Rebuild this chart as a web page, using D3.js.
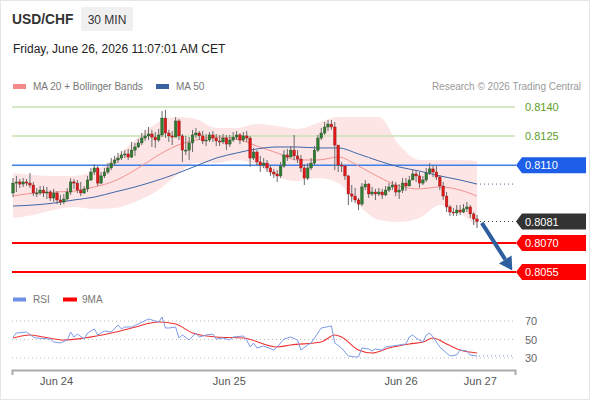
<!DOCTYPE html>
<html>
<head>
<meta charset="utf-8">
<script src="https://cdn.jsdelivr.net/npm/d3@7"></script>
<style>
  body { margin: 0; background: #fff; font-family: "Liberation Sans", Arial, sans-serif; }
  svg { display: block; }
</style>
</head>
<body>
<svg id="chart" width="590" height="400"></svg>
<script>
// ── Data ──
const pair = "USD/CHF";
const period = "30 MIN";
const stamp = "Friday, June 26, 2026 11:07:01 AM CET";

const firstOpen = 0.80957;
const closes = [
  0.81008, 0.81014, 0.81003, 0.81014, 0.81008, 0.80998, 0.80957, 0.80957, 0.80972, 0.80957,
  0.80962, 0.80931, 0.80957, 0.80921, 0.80911, 0.80926, 0.80962, 0.81014, 0.81008, 0.80972,
  0.80957, 0.80978, 0.81024, 0.81065, 0.81086, 0.81008, 0.81045, 0.81065, 0.81086, 0.81111,
  0.81127, 0.81137, 0.81153, 0.81158, 0.81142, 0.81178, 0.81194, 0.81215, 0.81240, 0.81251,
  0.81261, 0.81245, 0.81230, 0.81256, 0.81343, 0.81266, 0.81251, 0.81245, 0.81328, 0.81251,
  0.81178, 0.81178, 0.81215, 0.81256, 0.81266, 0.81251, 0.81225, 0.81230, 0.81256, 0.81240,
  0.81225, 0.81220, 0.81240, 0.81209, 0.81230, 0.81245, 0.81256, 0.81230, 0.81251, 0.81240,
  0.81137, 0.81168, 0.81117, 0.81101, 0.81111, 0.81086, 0.81065, 0.81055, 0.81045, 0.81096,
  0.81153, 0.81142, 0.81178, 0.81148, 0.81132, 0.81086, 0.81034, 0.81086, 0.81111, 0.81178,
  0.81240, 0.81266, 0.81297, 0.81312, 0.81297, 0.81204, 0.81101, 0.81096, 0.81045, 0.80952,
  0.80941, 0.80921, 0.80900, 0.80988, 0.81003, 0.80952, 0.80962, 0.80952, 0.80962, 0.80947,
  0.80972, 0.80988, 0.80998, 0.80962, 0.80972, 0.81008, 0.80993, 0.81024, 0.81055, 0.81045,
  0.81008, 0.81024, 0.81060, 0.81081, 0.81065, 0.81039, 0.80993, 0.80941, 0.80885, 0.80859,
  0.80854, 0.80869, 0.80859, 0.80875, 0.80885, 0.80849, 0.80823, 0.80810
];
const highs = [
  0.81034, 0.81045, 0.81029, 0.81034, 0.81029, 0.81060, 0.81014, 0.80983, 0.80993, 0.80993,
  0.80988, 0.80972, 0.80978, 0.80967, 0.80947, 0.80952, 0.80983, 0.81034, 0.81029, 0.81024,
  0.81014, 0.80993, 0.81045, 0.81086, 0.81106, 0.81096, 0.81065, 0.81086, 0.81111, 0.81137,
  0.81148, 0.81163, 0.81173, 0.81178, 0.81184, 0.81220, 0.81215, 0.81235, 0.81266, 0.81282,
  0.81297, 0.81282, 0.81271, 0.81287, 0.81379, 0.81385, 0.81282, 0.81276, 0.81348, 0.81338,
  0.81261, 0.81251, 0.81245, 0.81282, 0.81292, 0.81276, 0.81276, 0.81261, 0.81271, 0.81276,
  0.81261, 0.81256, 0.81261, 0.81256, 0.81256, 0.81271, 0.81276, 0.81266, 0.81271, 0.81276,
  0.81251, 0.81189, 0.81178, 0.81148, 0.81137, 0.81127, 0.81101, 0.81081, 0.81075, 0.81117,
  0.81178, 0.81184, 0.81199, 0.81256, 0.81178, 0.81153, 0.81106, 0.81111, 0.81137, 0.81199,
  0.81256, 0.81292, 0.81323, 0.81333, 0.81333, 0.81323, 0.81204, 0.81117, 0.81096, 0.81050,
  0.80998, 0.80983, 0.80931, 0.81008, 0.81024, 0.81008, 0.80988, 0.80978, 0.80983, 0.80978,
  0.80993, 0.81008, 0.81019, 0.81014, 0.81003, 0.81034, 0.81034, 0.81045, 0.81075, 0.81075,
  0.81065, 0.81045, 0.81086, 0.81111, 0.81101, 0.81096, 0.81050, 0.81014, 0.80962, 0.80895,
  0.80880, 0.80895, 0.80895, 0.80900, 0.80911, 0.80895, 0.80859, 0.80844
];
const lows = [
  0.80936, 0.80962, 0.80983, 0.80988, 0.80993, 0.80983, 0.80941, 0.80936, 0.80947, 0.80936,
  0.80926, 0.80916, 0.80911, 0.80900, 0.80895, 0.80900, 0.80916, 0.80947, 0.80978, 0.80957,
  0.80941, 0.80952, 0.80962, 0.81019, 0.81050, 0.80993, 0.81003, 0.81034, 0.81055, 0.81075,
  0.81096, 0.81111, 0.81127, 0.81137, 0.81127, 0.81137, 0.81148, 0.81189, 0.81204, 0.81225,
  0.81230, 0.81194, 0.81189, 0.81220, 0.81245, 0.81240, 0.81220, 0.81204, 0.81245, 0.81230,
  0.81117, 0.81153, 0.81127, 0.81168, 0.81240, 0.81230, 0.81209, 0.81199, 0.81220, 0.81220,
  0.81199, 0.81199, 0.81209, 0.81178, 0.81194, 0.81220, 0.81230, 0.81209, 0.81220, 0.81220,
  0.81091, 0.81127, 0.81096, 0.81065, 0.81086, 0.81065, 0.81045, 0.81034, 0.81014, 0.81034,
  0.81086, 0.81122, 0.81148, 0.81127, 0.81111, 0.81065, 0.80998, 0.81024, 0.81075, 0.81101,
  0.81168, 0.81230, 0.81256, 0.81276, 0.81282, 0.81075, 0.81065, 0.81065, 0.81024, 0.80895,
  0.80911, 0.80905, 0.80869, 0.80890, 0.80972, 0.80931, 0.80941, 0.80921, 0.80941, 0.80926,
  0.80941, 0.80962, 0.80972, 0.80941, 0.80926, 0.80957, 0.80967, 0.80993, 0.81024, 0.81014,
  0.80983, 0.80998, 0.81014, 0.81050, 0.81039, 0.81024, 0.80972, 0.80921, 0.80859, 0.80838,
  0.80838, 0.80838, 0.80844, 0.80854, 0.80859, 0.80828, 0.80792, 0.80777
];

// indicator readings, sampled every few candles
const indIdx = [0, 6, 12, 18, 24, 30, 36, 42, 48, 54, 60, 66, 72, 78, 84, 90, 96, 102, 108, 114, 120, 126, 132, 137];
const ma20 = [0.80941, 0.80957, 0.80962, 0.80967, 0.80988, 0.81019, 0.81075, 0.81142, 0.81199, 0.81230, 0.81245, 0.81235,
  0.81199, 0.81163, 0.81127, 0.81127, 0.81142, 0.81096, 0.81039, 0.80993, 0.80978, 0.80988, 0.80972, 0.80941];
const ma50 = [0.80890, 0.80895, 0.80905, 0.80921, 0.80936, 0.80962, 0.80988, 0.81019, 0.81055, 0.81096, 0.81137, 0.81163,
  0.81184, 0.81194, 0.81194, 0.81189, 0.81189, 0.81158, 0.81122, 0.81091, 0.81070, 0.81045, 0.81024, 0.81003];
const bbUpper = [0.81060, 0.81050, 0.81045, 0.81045, 0.81070, 0.81137, 0.81230, 0.81312, 0.81348, 0.81338, 0.81292, 0.81292,
  0.81312, 0.81302, 0.81287, 0.81318, 0.81348, 0.81348, 0.81348, 0.81204, 0.81127, 0.81127, 0.81127, 0.81122];
const bbLower = [0.80828, 0.80844, 0.80869, 0.80885, 0.80875, 0.80880, 0.80911, 0.80962, 0.81045, 0.81111, 0.81111, 0.81127,
  0.81101, 0.81039, 0.81019, 0.81034, 0.81008, 0.80895, 0.80818, 0.80808, 0.80828, 0.80895, 0.80854, 0.80782];

const resistances = [0.8140, 0.8125];
const pivot = 0.8110;
const supports = [0.8070, 0.8055];
const lastPrice = 0.8081;
const arrowFrom = [138.4, 0.80803];
const arrowTo = [147.4, 0.80558];

const rsiIdx = [0, 1, 4, 6, 7, 11, 12, 14, 16, 17, 18, 19, 21, 22, 24, 25, 27, 29, 31, 32, 33, 35, 37, 40, 41, 43, 44, 45,
  46, 48, 49, 50, 52, 54, 55, 57, 59, 60, 62, 64, 65, 68, 69, 70, 71, 72, 74, 77, 78, 80, 82, 84, 85, 87, 88, 90, 91, 94,
  95, 97, 99, 101, 102, 103, 105, 106, 107, 109, 110, 112, 114, 116, 117, 118, 119, 121, 122, 123, 124, 126, 128, 129,
  131, 132, 134, 135, 137];
const rsiVal = [52.7, 57.0, 58.1, 52.7, 51.6, 50.5, 47.3, 46.2, 49.5, 58.1, 52.7, 55.9, 50.5, 57.0, 61.4, 54.9, 59.2, 58.1,
  65.7, 61.4, 63.5, 63.5, 66.8, 72.2, 71.1, 68.9, 74.3, 62.4, 62.4, 63.5, 51.6, 54.9, 49.5, 57.0, 52.7, 54.9, 55.9, 50.5,
  51.6, 49.5, 52.7, 53.8, 49.5, 41.9, 46.2, 40.8, 43.0, 38.6, 41.9, 50.5, 52.7, 49.5, 38.6, 44.1, 46.2, 57.0, 62.4, 64.6,
  46.2, 40.8, 32.2, 31.1, 31.1, 40.8, 39.7, 37.6, 39.7, 38.6, 41.9, 43.0, 44.1, 45.1, 52.7, 54.9, 51.6, 47.3, 54.9, 57.0,
  52.7, 41.9, 35.4, 32.2, 33.2, 38.6, 37.6, 33.2, 32.2];
const rsiMaIdx = [0, 5, 9, 15, 21, 29, 35, 43, 48, 53, 60, 68, 78, 82, 91, 95, 97, 102, 106, 111, 117, 121, 124, 128, 132, 137];
const rsiMaVal = [51.6, 54.9, 52.7, 49.5, 51.6, 57.0, 62.4, 68.9, 66.8, 57.0, 52.7, 51.6, 41.9, 44.1, 47.3, 54.9, 52.7,
  38.6, 35.4, 40.8, 45.1, 47.3, 51.6, 45.1, 38.6, 35.4];
const rsiTicks = [70, 50, 30];

const dayLabels = ["Jun 24", "Jun 25", "Jun 26", "Jun 27"];
const dayPos = [12.7, 63.7, 114.4, 137.8];

// ── Layout ──
const W = 590, H = 400;
const left = 12, right = 515;
const svg = d3.select("#chart");

const x = d3.scaleLinear().domain([-0.3, 148.2]).range([left, right]);
const y = d3.scaleLinear().domain([0.8055, 0.8140]).range([272, 107]);
const yR = d3.scaleLinear().domain([30, 70]).range([358, 321]);

svg.append("rect")
  .attr("x", 0.5).attr("y", 0.5).attr("width", W - 1).attr("height", H - 1)
  .attr("fill", "#fff").attr("stroke", "#e6e6e6");

// ── Header ──
svg.append("text").attr("x", 12).attr("y", 24)
  .attr("font-size", 13.8).attr("font-weight", "bold").attr("fill", "#333").text(pair);
svg.append("rect").attr("x", 81).attr("y", 7).attr("width", 52).attr("height", 24)
  .attr("rx", 2).attr("fill", "#f0f0f0");
svg.append("text").attr("x", 107).attr("y", 23.5).attr("text-anchor", "middle")
  .attr("font-size", 12).attr("fill", "#333").text(period);
svg.append("text").attr("x", 13).attr("y", 52.5)
  .attr("font-size", 12).attr("fill", "#222").text(stamp);

// ── Legend ──
const legend = svg.append("g").attr("font-size", 10).attr("fill", "#777");
legend.append("rect").attr("x", 13).attr("y", 84).attr("width", 13).attr("height", 5).attr("fill", "#f58a8a");
legend.append("text").attr("x", 33).attr("y", 90).text("MA 20 + Bollinger Bands");
legend.append("rect").attr("x", 156).attr("y", 84).attr("width", 13).attr("height", 5).attr("fill", "#3a62a0");
legend.append("text").attr("x", 176).attr("y", 90).text("MA 50");
legend.append("text").attr("x", 581).attr("y", 90).attr("text-anchor", "end").attr("fill", "#9a9a9a")
  .text("Research \u00a9 2026 Trading Central");

// ── Bollinger band ──
const band = indIdx.map((d, i) => ({ i: d, up: bbUpper[i], lo: bbLower[i], m20: ma20[i], m50: ma50[i] }));
svg.append("path").datum(band)
  .attr("fill", "#fde2e2").attr("opacity", 0.9)
  .attr("d", d3.area().curve(d3.curveMonotoneX)
    .x(d => x(d.i)).y0(d => y(d.lo)).y1(d => y(d.up)));

// ── Levels ──
resistances.forEach(v => {
  svg.append("line").attr("x1", left).attr("x2", right).attr("y1", y(v)).attr("y2", y(v))
    .attr("stroke", "#c9e2b3").attr("stroke-width", 1.5);
  svg.append("text").attr("x", 525).attr("y", y(v) + 4).attr("font-size", 11)
    .attr("fill", "#5c9e2c").text(v.toFixed(4));
});
svg.append("line").attr("x1", left).attr("x2", right + 1).attr("y1", y(pivot)).attr("y2", y(pivot))
  .attr("stroke", "#3f7fe6").attr("stroke-width", 1.5);
supports.forEach(v => {
  svg.append("line").attr("x1", left).attr("x2", right + 1).attr("y1", y(v)).attr("y2", y(v))
    .attr("stroke", "#f00").attr("stroke-width", 2);
});

// ── Moving averages ──
const maLine = key => d3.line().curve(d3.curveMonotoneX).x(d => x(d.i)).y(d => y(d[key]));
svg.append("path").datum(band).attr("fill", "none").attr("stroke", "#f59090").attr("stroke-width", 1)
  .attr("d", maLine("m20"));
svg.append("path").datum(band).attr("fill", "none").attr("stroke", "#3d66a8").attr("stroke-width", 1)
  .attr("d", maLine("m50"));
const lastBand = band[band.length - 1];
svg.append("line").attr("x1", x(lastBand.i) + 3).attr("x2", right)
  .attr("y1", y(lastBand.m50)).attr("y2", y(lastBand.m50))
  .attr("stroke", "#3d66a8").attr("stroke-dasharray", "1,3");
svg.append("line").attr("x1", x(closes.length - 1) + 3).attr("x2", right)
  .attr("y1", y(lastPrice)).attr("y2", y(lastPrice))
  .attr("stroke", "#333").attr("stroke-dasharray", "1,3");

// ── Candles ──
const candles = closes.map((c, i) => ({ i, o: i ? closes[i - 1] : firstOpen, h: highs[i], l: lows[i], c }));
const cg = svg.append("g").selectAll("g").data(candles).join("g");
cg.append("line")
  .attr("x1", d => x(d.i)).attr("x2", d => x(d.i))
  .attr("y1", d => y(Math.max(d.h, d.o, d.c))).attr("y2", d => y(Math.min(d.l, d.o, d.c)))
  .attr("stroke", "#6b6b6b").attr("stroke-width", 1);
cg.append("rect")
  .attr("x", d => x(d.i) - 1.3).attr("width", 2.6)
  .attr("y", d => y(Math.max(d.o, d.c)))
  .attr("height", d => Math.max(1, Math.abs(y(d.o) - y(d.c))))
  .attr("fill", d => d.c >= d.o ? "#2f7d2f" : "#e01818")
  .attr("stroke", d => d.c >= d.o ? "#2a4a2a" : "#8a2020").attr("stroke-width", 0.4);

// ── Price tags ──
function tag(v, fill) {
  const cy = y(v);
  svg.append("path")
    .attr("d", `M516,${cy}L522,${cy - 8}L586,${cy - 8}L586,${cy + 8}L522,${cy + 8}Z`)
    .attr("fill", fill);
  svg.append("text").attr("x", 525).attr("y", cy + 4).attr("font-size", 11)
    .attr("fill", "#fff").text(v.toFixed(4));
}
tag(pivot, "#1d5fe8");
tag(lastPrice, "#333");
supports.forEach(v => tag(v, "#f00"));

// ── Forecast arrow ──
const ax0 = x(arrowFrom[0]), ay0 = y(arrowFrom[1]);
const ax1 = x(arrowTo[0]), ay1 = y(arrowTo[1]);
const ang = Math.atan2(ay1 - ay0, ax1 - ax0);
const headLen = 13, headW = 7.5;
const bx = ax1 - headLen * Math.cos(ang), by = ay1 - headLen * Math.sin(ang);
svg.append("line").attr("x1", ax0).attr("y1", ay0).attr("x2", bx).attr("y2", by)
  .attr("stroke", "#2d5e9e").attr("stroke-width", 4);
svg.append("path")
  .attr("d", `M${ax1},${ay1}L${bx - headW * Math.sin(ang)},${by + headW * Math.cos(ang)}` +
    `L${bx + headW * Math.sin(ang)},${by - headW * Math.cos(ang)}Z`)
  .attr("fill", "#2d5e9e");

// ── RSI pane ──
const rl = svg.append("g").attr("font-size", 10).attr("fill", "#777");
rl.append("rect").attr("x", 13).attr("y", 297.5).attr("width", 13).attr("height", 4).attr("fill", "#6f8fe6");
rl.append("text").attr("x", 33).attr("y", 303).text("RSI");
rl.append("rect").attr("x", 63).attr("y", 297.5).attr("width", 14).attr("height", 4).attr("fill", "#f00");
rl.append("text").attr("x", 82).attr("y", 303).text("9MA");

rsiTicks.forEach(v => {
  svg.append("line").attr("x1", left).attr("x2", right).attr("y1", yR(v)).attr("y2", yR(v))
    .attr("stroke", "#bbb").attr("stroke-dasharray", "1,3");
  svg.append("text").attr("x", 525).attr("y", yR(v) + 4).attr("font-size", 11)
    .attr("fill", "#666").text(v);
});

const rsiPts = rsiIdx.map((d, i) => [d, rsiVal[i]]);
const rsiMaPts = rsiMaIdx.map((d, i) => [d, rsiMaVal[i]]);
svg.append("path").datum(rsiMaPts).attr("fill", "none").attr("stroke", "#f03232").attr("stroke-width", 1.1)
  .attr("d", d3.line().curve(d3.curveMonotoneX).x(d => x(d[0])).y(d => yR(d[1])));
svg.append("path").datum(rsiPts).attr("fill", "none").attr("stroke", "#7e9be8").attr("stroke-width", 1)
  .attr("d", d3.line().x(d => x(d[0])).y(d => yR(d[1])));
const lastRsi = rsiPts[rsiPts.length - 1];
svg.append("line").attr("x1", x(lastRsi[0]) + 2).attr("x2", right)
  .attr("y1", yR(lastRsi[1])).attr("y2", yR(lastRsi[1]))
  .attr("stroke", "#6f8fe6").attr("stroke-dasharray", "1,3");

// ── Time axis ──
const axis = svg.append("g").attr("transform", "translate(0,370)")
  .call(d3.axisBottom(x).tickValues(dayPos).tickFormat((d, i) => dayLabels[i])
    .tickSizeInner(0).tickSizeOuter(5).tickPadding(7));
axis.select(".domain").attr("stroke", "#aaa").attr("stroke-width", 2);
axis.selectAll(".tick line").remove();
axis.selectAll(".tick text").attr("font-size", 11).attr("fill", "#555")
  .attr("font-family", "Liberation Sans, Arial, sans-serif").attr("dy", "0.71em");
</script>
</body>
</html>
